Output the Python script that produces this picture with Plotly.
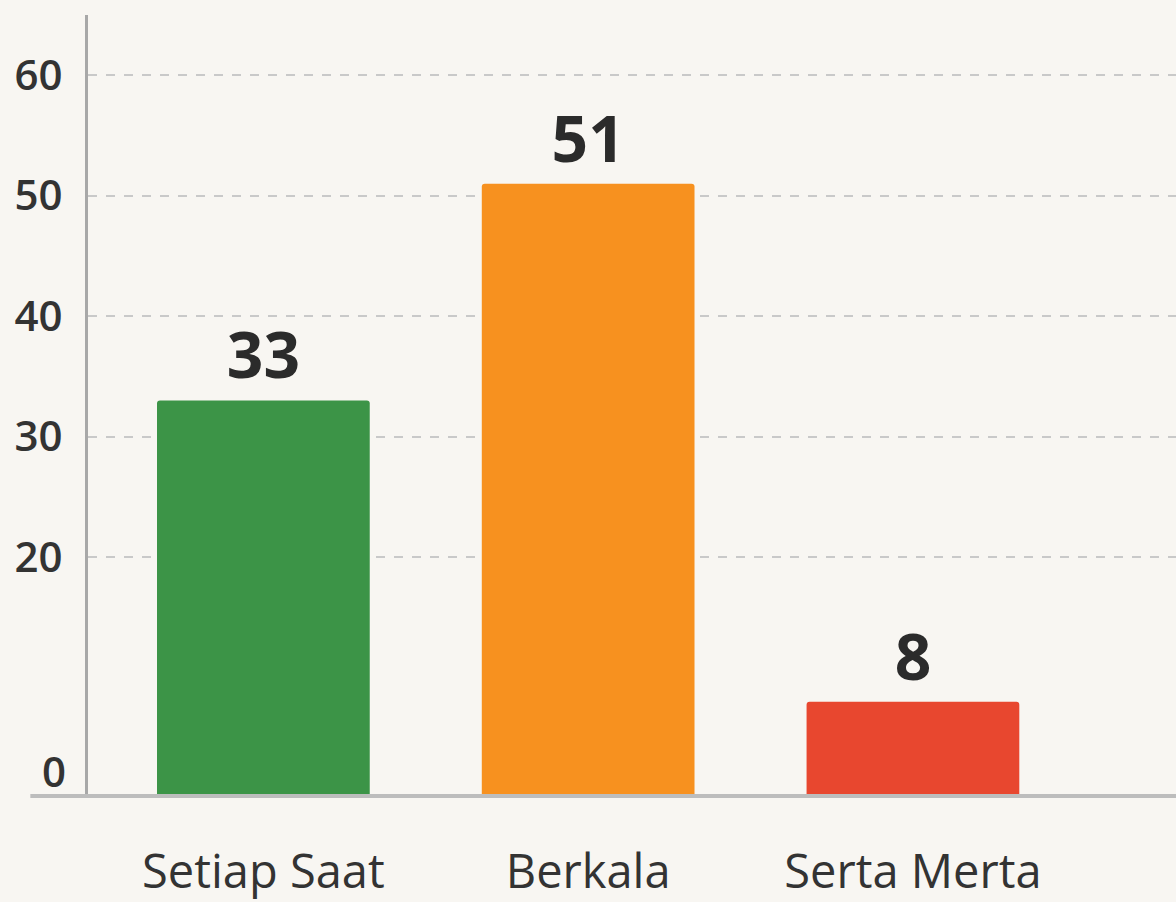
import plotly.graph_objects as go

categories = ["Setiap Saat", "Berkala", "Serta Merta"]
values = [33, 51, 8]
tick_values = [0, 20, 30, 40, 50, 60]
tick_labels = ["0", "20", "30", "40", "50", "60"]
bar_colors = ["#3c9447", "#f7911f", "#e8472f"]

fig = go.Figure()
fig.add_trace(go.Bar(
    x=categories,
    y=values,
    marker=dict(color=bar_colors, line=dict(width=0)),
    width=0.655,
    text=[str(v) for v in values],
    texttemplate="%{text}",
    textposition="outside",
    textfont=dict(family="Open Sans", size=64, color="#2b2b2b", weight=700),
    cliponaxis=False,
))

# baseline decoration
fig.add_shape(type="line", xref="paper", yref="y", x0=-0.053, x1=1.0, y0=0, y1=0,
              line=dict(color="#bdbdbd", width=8), layer="above")

# zero label sits above the baseline, as in the reference
fig.add_annotation(x=0, xref="paper", y=tick_values[0], yref="y", text=tick_labels[0],
                   showarrow=False, xanchor="right", yshift=28, xshift=-20,
                   font=dict(family="Open Sans", size=42, color="#333333", weight=600))

fig.update_layout(
    width=1176, height=902,
    margin=dict(l=88, r=0, t=15, b=102),
    paper_bgcolor="#f8f6f2",
    plot_bgcolor="#f8f6f2",
    showlegend=False,
    barcornerradius=3,
    xaxis=dict(
        range=[-0.54, 2.81],
        showgrid=False,
        showline=False,
        ticks="",
        tickfont=dict(family="Open Sans", size=47, color="#333333"),
        ticklabelstandoff=42,
    ),
    yaxis=dict(
        range=[0, 65],
        tickvals=tick_values[1:],
        ticktext=tick_labels[1:],
        showline=True,
        linecolor="#a8a8a8",
        linewidth=3,
        showgrid=True,
        gridcolor="#c9c9c9",
        griddash="dash",
        gridwidth=1.5,
        zeroline=False,
        ticks="",
        ticklabelstandoff=14,
        tickfont=dict(family="Open Sans", size=42, color="#333333", weight=600),
    ),
)

fig.write_html("out.html")
